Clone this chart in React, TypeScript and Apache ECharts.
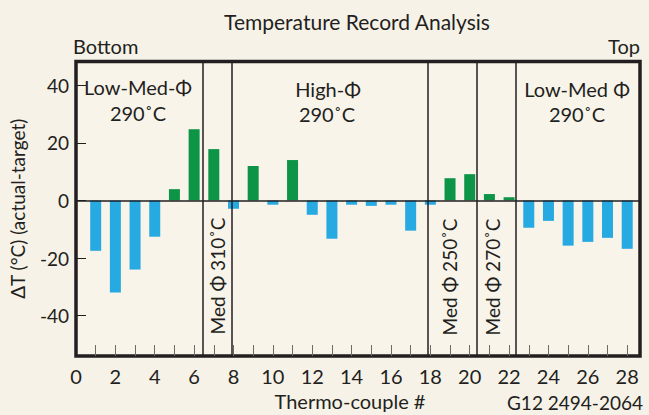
import React, { useEffect, useRef } from "react";
import * as echarts from "echarts";

const thermocouples = [1, 2, 3, 4, 5, 6, 7, 8, 9, 10, 11, 12, 13, 14, 15, 16, 17, 18, 19, 20, 21, 22, 23, 24, 25, 26, 27, 28];
const deltaT = [-17.5, -32, -24, -12.6, 3.9, 24.7, 17.8, -2.9, 11.9, -1.5, 14, -5, -13.3, -1.5, -1.9, -1.5, -10.5, -1.5, 7.7, 9.1, 2.2, 1.1, -9.5, -7.1, -15.7, -14.4, -13, -16.8];
const dividers = [6.45, 7.9, 17.88, 20.38, 22.35];
const xTickLabels = [0, 2, 4, 6, 8, 10, 12, 14, 16, 18, 20, 22, 24, 26, 28];
const yTickLabels = [-40, -20, 0, 20, 40];

const INK = "#231F20";
const BLUE = "#27A9E1";
const GREEN = "#0D9446";
const FONT = "Lato, 'Noto Sans', sans-serif";

export default function App() {
  const ref = useRef<HTMLDivElement>(null);
  useEffect(() => {
    if (!ref.current) return;
    const chart = echarts.init(ref.current, null, { renderer: "svg" });
    const txt = (text: string, x: number, y: number, extra: any = {}) => ({
      type: "text",
      x,
      y,
      rotation: extra.rotation || 0,
      style: {
        text,
        fill: INK,
        font: `${extra.size || 20}px ${FONT}`,
        align: extra.align || "center",
        verticalAlign: "middle",
      },
    });
    chart.setOption({
      animation: false,
      backgroundColor: "#F6F2E8",
      textStyle: { fontFamily: FONT },
      grid: {
        left: 76,
        right: 9,
        top: 61.5,
        bottom: 59,
        show: true,
        borderColor: INK,
        borderWidth: 3.5,
        backgroundColor: "#F8F4EA",
      },
      xAxis: {
        type: "value",
        min: 0,
        max: 28.65,
        splitLine: { show: false },
        axisLine: { show: false, onZero: false },
        axisTick: {
          show: true,
          inside: true,
          length: 11,
          customValues: thermocouples,
          lineStyle: { color: "#6d6a66", width: 1 },
        },
        axisLabel: {
          customValues: xTickLabels,
          color: INK,
          fontSize: 20,
          margin: 10,
          fontFamily: FONT,
        },
      },
      yAxis: {
        type: "value",
        min: -54,
        max: 48.2,
        splitLine: { show: false },
        axisLine: { show: false, onZero: false },
        axisTick: {
          show: true,
          inside: true,
          length: 10,
          customValues: yTickLabels,
          lineStyle: { color: INK, width: 1 },
        },
        axisLabel: {
          customValues: yTickLabels,
          color: INK,
          fontSize: 19,
          margin: 7,
          fontFamily: FONT,
        },
        name: "ΔT (°C) (actual-target)",
        nameLocation: "middle",
        nameGap: 49,
        nameTextStyle: { color: INK, fontSize: 19, fontFamily: FONT },
      },
      series: [
        {
          type: "bar",
          barWidth: 11,
          data: thermocouples.map((t, i) => ({
            value: [t, deltaT[i]],
            itemStyle: { color: deltaT[i] >= 0 ? GREEN : BLUE },
          })),
          markLine: {
            silent: true,
            symbol: "none",
            label: { show: false },
            lineStyle: { color: INK, type: "solid", width: 1.5 },
            data: [
              { yAxis: 0 },
              ...dividers.map((d) => ({ xAxis: d })),
            ],
          },
        },
      ],
      graphic: [
        txt("Temperature Record Analysis", 357, 21, { size: 21 }),
        txt("Bottom", 73, 45.5, { align: "left" }),
        txt("Top", 640, 45.5, { align: "right" }),
        txt("Low-Med-Φ", 138, 86.5),
        txt("290˚C", 138, 112.5),
        txt("High-Φ", 328, 89),
        txt("290˚C", 327, 114),
        txt("Low-Med Φ", 577, 89),
        txt("290˚C", 577, 114),
        txt("Med Φ 310˚C", 217, 276, { rotation: Math.PI / 2, size: 19 }),
        txt("Med Φ 250˚C", 449, 277, { rotation: Math.PI / 2, size: 19 }),
        txt("Med Φ 270˚C", 492, 277, { rotation: Math.PI / 2, size: 19 }),
        txt("Thermo-couple #", 350, 401),
        txt("G12 2494-2064", 643, 402, { align: "right", size: 19 }),
      ],
    });
    return () => chart.dispose();
  }, []);
  return (
    <div
      ref={ref}
      style={{ position: "fixed", left: 0, top: 0, width: 649, height: 415 }}
    />
  );
}
